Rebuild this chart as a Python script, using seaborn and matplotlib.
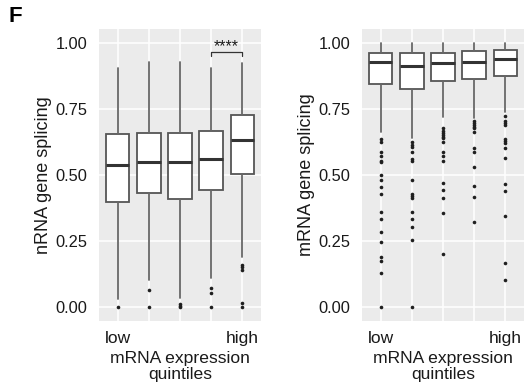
import matplotlib
matplotlib.use("Agg")
import matplotlib.pyplot as plt
import seaborn as sns
import numpy as np

# ---------------- data ----------------
categories = ["low", "", "", "", "high"]
y_ticks = [0.0, 0.25, 0.50, 0.75, 1.00]
y_ticklabels = ["0.00", "0.25", "0.50", "0.75", "1.00"]

# left panel: nRNA gene splicing
left_q1 = [0.397, 0.431, 0.408, 0.442, 0.503]
left_med = [0.539, 0.550, 0.550, 0.562, 0.632]
left_q3 = [0.655, 0.657, 0.660, 0.665, 0.725]
left_whislo = [0.032, 0.103, 0.034, 0.110, 0.191]
left_whishi = [0.903, 0.928, 0.927, 0.905, 0.922]
left_outliers = [
    [0.0],
    [0.065, 0.0],
    [0.0, 0.006, 0.012],
    [0.072, 0.055, 0.0],
    [0.160, 0.151, 0.141, 0.015, 0.0],
]

# right panel: mRNA gene splicing
right_q1 = [0.843, 0.826, 0.855, 0.864, 0.875]
right_med = [0.926, 0.914, 0.922, 0.927, 0.940]
right_q3 = [0.963, 0.960, 0.960, 0.968, 0.972]
right_whislo = [0.664, 0.641, 0.720, 0.714, 0.739]
right_whishi = [1.0, 1.0, 1.0, 1.0, 1.0]
right_outliers = [
    [0.635, 0.626, 0.588, 0.572, 0.554, 0.548, 0.500, 0.481, 0.453, 0.427,
     0.361, 0.334, 0.283, 0.248, 0.191, 0.173, 0.128, 0.0],
    [0.626, 0.613, 0.605, 0.588, 0.560, 0.554, 0.481, 0.427, 0.421, 0.414,
     0.361, 0.334, 0.302, 0.254, 0.0],
    [0.676, 0.668, 0.660, 0.652, 0.645, 0.639, 0.626, 0.588, 0.573, 0.554,
     0.469, 0.443, 0.414, 0.355, 0.200],
    [0.705, 0.697, 0.690, 0.683, 0.676, 0.664, 0.603, 0.586, 0.531, 0.458,
     0.418, 0.324],
    [0.723, 0.705, 0.697, 0.690, 0.635, 0.628, 0.622, 0.601, 0.565, 0.466,
     0.440, 0.346, 0.166, 0.103],
]

# significance annotation (left panel)
sig_pair = (3, 4)
sig_y = 0.966
sig_leg = 0.016
sig_label = "****"

# ---------------- style ----------------
sns.set_theme(style="darkgrid", rc={
    "axes.facecolor": "#EBEBEB",
    "grid.color": "white",
    "grid.linewidth": 1.1,
})
plt.rcParams["font.family"] = ["Liberation Sans", "DejaVu Sans"]

fig = plt.figure(figsize=(5.24, 3.88), dpi=100)
W, H = 524, 388
ax1 = fig.add_axes([99 / W, 67 / H, 162 / W, 292 / H])
ax2 = fig.add_axes([362 / W, 67 / H, 162 / W, 292 / H])


def draw(ax, q1, med, q3, lo, hi, outs, ylabel):
    stats = []
    for i in range(len(categories)):
        stats.append(dict(med=med[i], q1=q1[i], q3=q3[i],
                          whislo=lo[i], whishi=hi[i],
                          fliers=np.array(outs[i])))
    ax.bxp(stats, positions=list(range(len(categories))), widths=0.75,
           showcaps=False, patch_artist=True,
           boxprops=dict(facecolor="white", edgecolor="#555555", linewidth=1.3),
           medianprops=dict(color="#333333", linewidth=2.2, solid_capstyle="butt"),
           whiskerprops=dict(color="#676767", linewidth=1.3),
           flierprops=dict(marker="o", markersize=2.6, markerfacecolor="#1f1f1f",
                           markeredgecolor="none"))
    ax.set_xlim(-0.6, len(categories) - 0.4)
    ax.set_ylim(-0.052, 1.052)
    ax.set_yticks(y_ticks)
    ax.set_yticklabels(y_ticklabels)
    ax.set_xticks(list(range(len(categories))))
    ax.set_xticklabels(categories)
    ax.tick_params(axis="both", length=4.5, width=1.0, color="#555555",
                   labelcolor="#1a1a1a", labelsize=11.8, pad=4)
    ax.tick_params(axis="x", labelsize=12.5, pad=3)
    for s in ax.spines.values():
        s.set_visible(False)
    ax.grid(True, which="major", color="white", linewidth=1.1)
    ax.set_axisbelow(True)
    ax.set_ylabel(ylabel, fontsize=13, color="#1a1a1a", labelpad=2)
    ax.set_xlabel("mRNA expression\nquintiles", fontsize=12.6, color="#1a1a1a",
                  labelpad=3, linespacing=1.12)


draw(ax1, left_q1, left_med, left_q3, left_whislo, left_whishi, left_outliers,
     "nRNA gene splicing")
draw(ax2, right_q1, right_med, right_q3, right_whislo, right_whishi,
     right_outliers, "mRNA gene splicing")

a, b = sig_pair
ax1.plot([a, a, b, b], [sig_y - sig_leg, sig_y, sig_y, sig_y - sig_leg],
         color="#333333", linewidth=0.9)
ax1.text((a + b) / 2, sig_y + 0.002, sig_label, ha="center", va="baseline",
         fontsize=11.5, color="#1a1a1a")

fig.text(8 / W, 1 - 6 / H, "F", fontsize=16, fontweight="bold", va="top",
         ha="left", color="black")

fig.savefig("out.png", dpi=100)
